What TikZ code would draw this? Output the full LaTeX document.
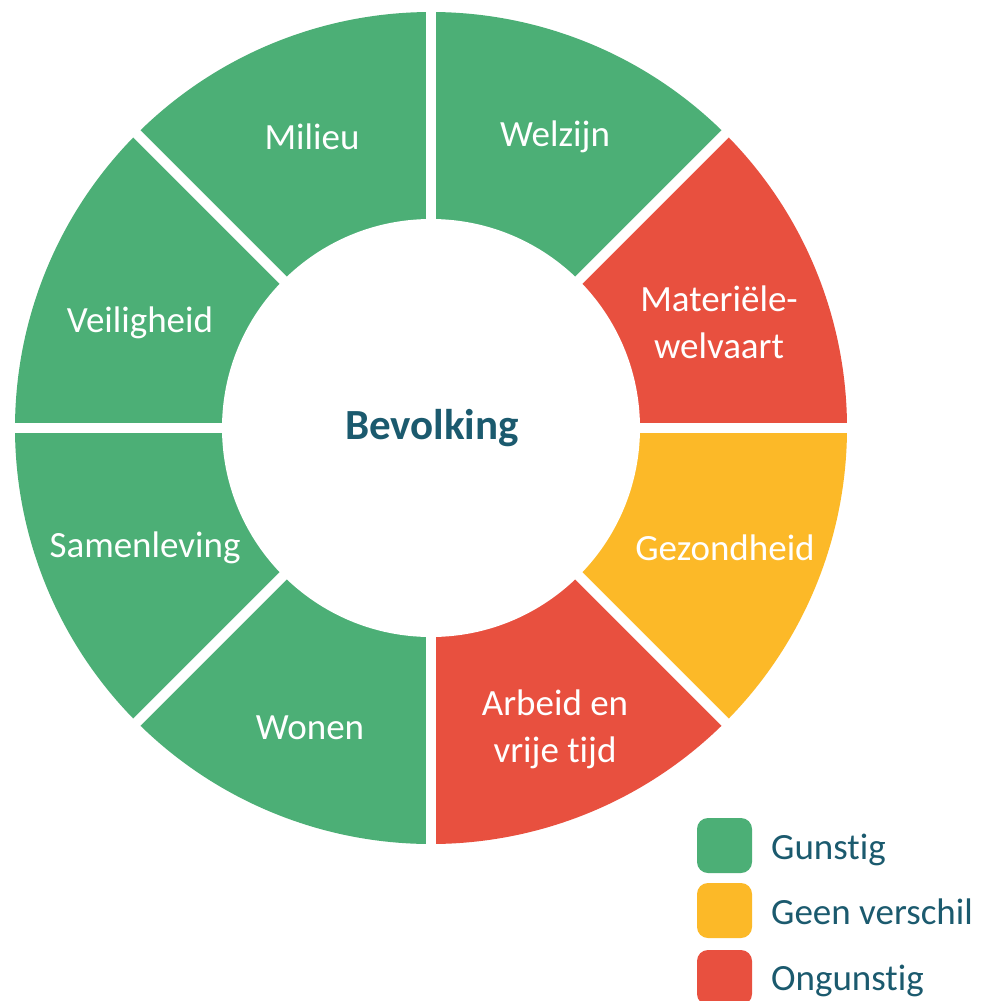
\documentclass[tikz,border=0pt]{standalone}
\usepackage{fontspec}
\usetikzlibrary{calc}
\setmainfont{Carlito}[Ligatures=NoCommon]
\definecolor{gunstig}{HTML}{4CAF76}
\definecolor{ongunstig}{HTML}{E8503F}
\definecolor{geen}{HTML}{FCB928}
\definecolor{teal}{HTML}{1B5A6E}
\tikzset{
  seglabel/.style={text=white, font=\fontsize{37}{47}\selectfont, align=center, inner sep=0pt},
  legbox/.style={fill=#1, rounded corners=11pt, minimum width=55pt, minimum height=55pt, inner sep=0pt},
  legtext/.style={text=teal, font=\fontsize{37}{44}\selectfont, anchor=base west, inner sep=0pt},
}
\begin{document}
\begin{tikzpicture}[x=1pt,y=-1pt]
\useasboundingbox (0,0) rectangle (980,1001);
\clip (0,0) rectangle (980,1001);
\fill[white] (0,0) rectangle (980,1001);
\coordinate (C) at (431,428);
% sectors (angles measured with y downward)
\foreach \a/\col in {-45/ongunstig, 0/geen, 45/ongunstig, 90/gunstig, 135/gunstig, 180/gunstig, 225/gunstig, 270/gunstig}{
  \fill[\col] (C) -- ++(\a:416) arc[start angle=\a, end angle=\a+45, radius=416] -- cycle;
}
% white gaps
\foreach \a in {0,45,90,135}{
  \draw[white, line width=10pt] ($(C)+(\a:425)$) -- ($(C)+(\a+180:425)$);
}
\fill[white] (C) circle[radius=209];
% labels
\node[seglabel] (milieu) at (312,137) {Milieu};
\node[seglabel] (welzijn) at (555,137) {Welzijn};
\node[seglabel] (veiligheid) at (140,323) {Veiligheid};
\node[seglabel] (materieel) at (719,322) {Materiële-\\welvaart};
\node[seglabel] (samenleving) at (145,548) {Samenleving};
\node[seglabel] (gezondheid) at (725,548) {Gezondheid};
\node[seglabel] (wonen) at (310,728) {Wonen};
\node[seglabel] (arbeid) at (555,729) {Arbeid en\\vrije tijd};
\node[text=teal, font=\bfseries\fontsize{43}{50}\selectfont, inner sep=0pt] (bevolking) at (432,428) {Bevolking};
% legend
\node[legbox=gunstig] (lg1) at (724.5,845.5) {};
\node[legbox=geen] (lg2) at (724.5,910.5) {};
\node[legbox=ongunstig] (lg3) at (724.5,977.5) {};
\node[legtext] (lt1) at (771,859) {Gunstig};
\node[legtext] (lt2) at (771,924) {Geen verschil};
\node[legtext] (lt3) at (771,990) {Ongunstig};
\end{tikzpicture}
\end{document}
